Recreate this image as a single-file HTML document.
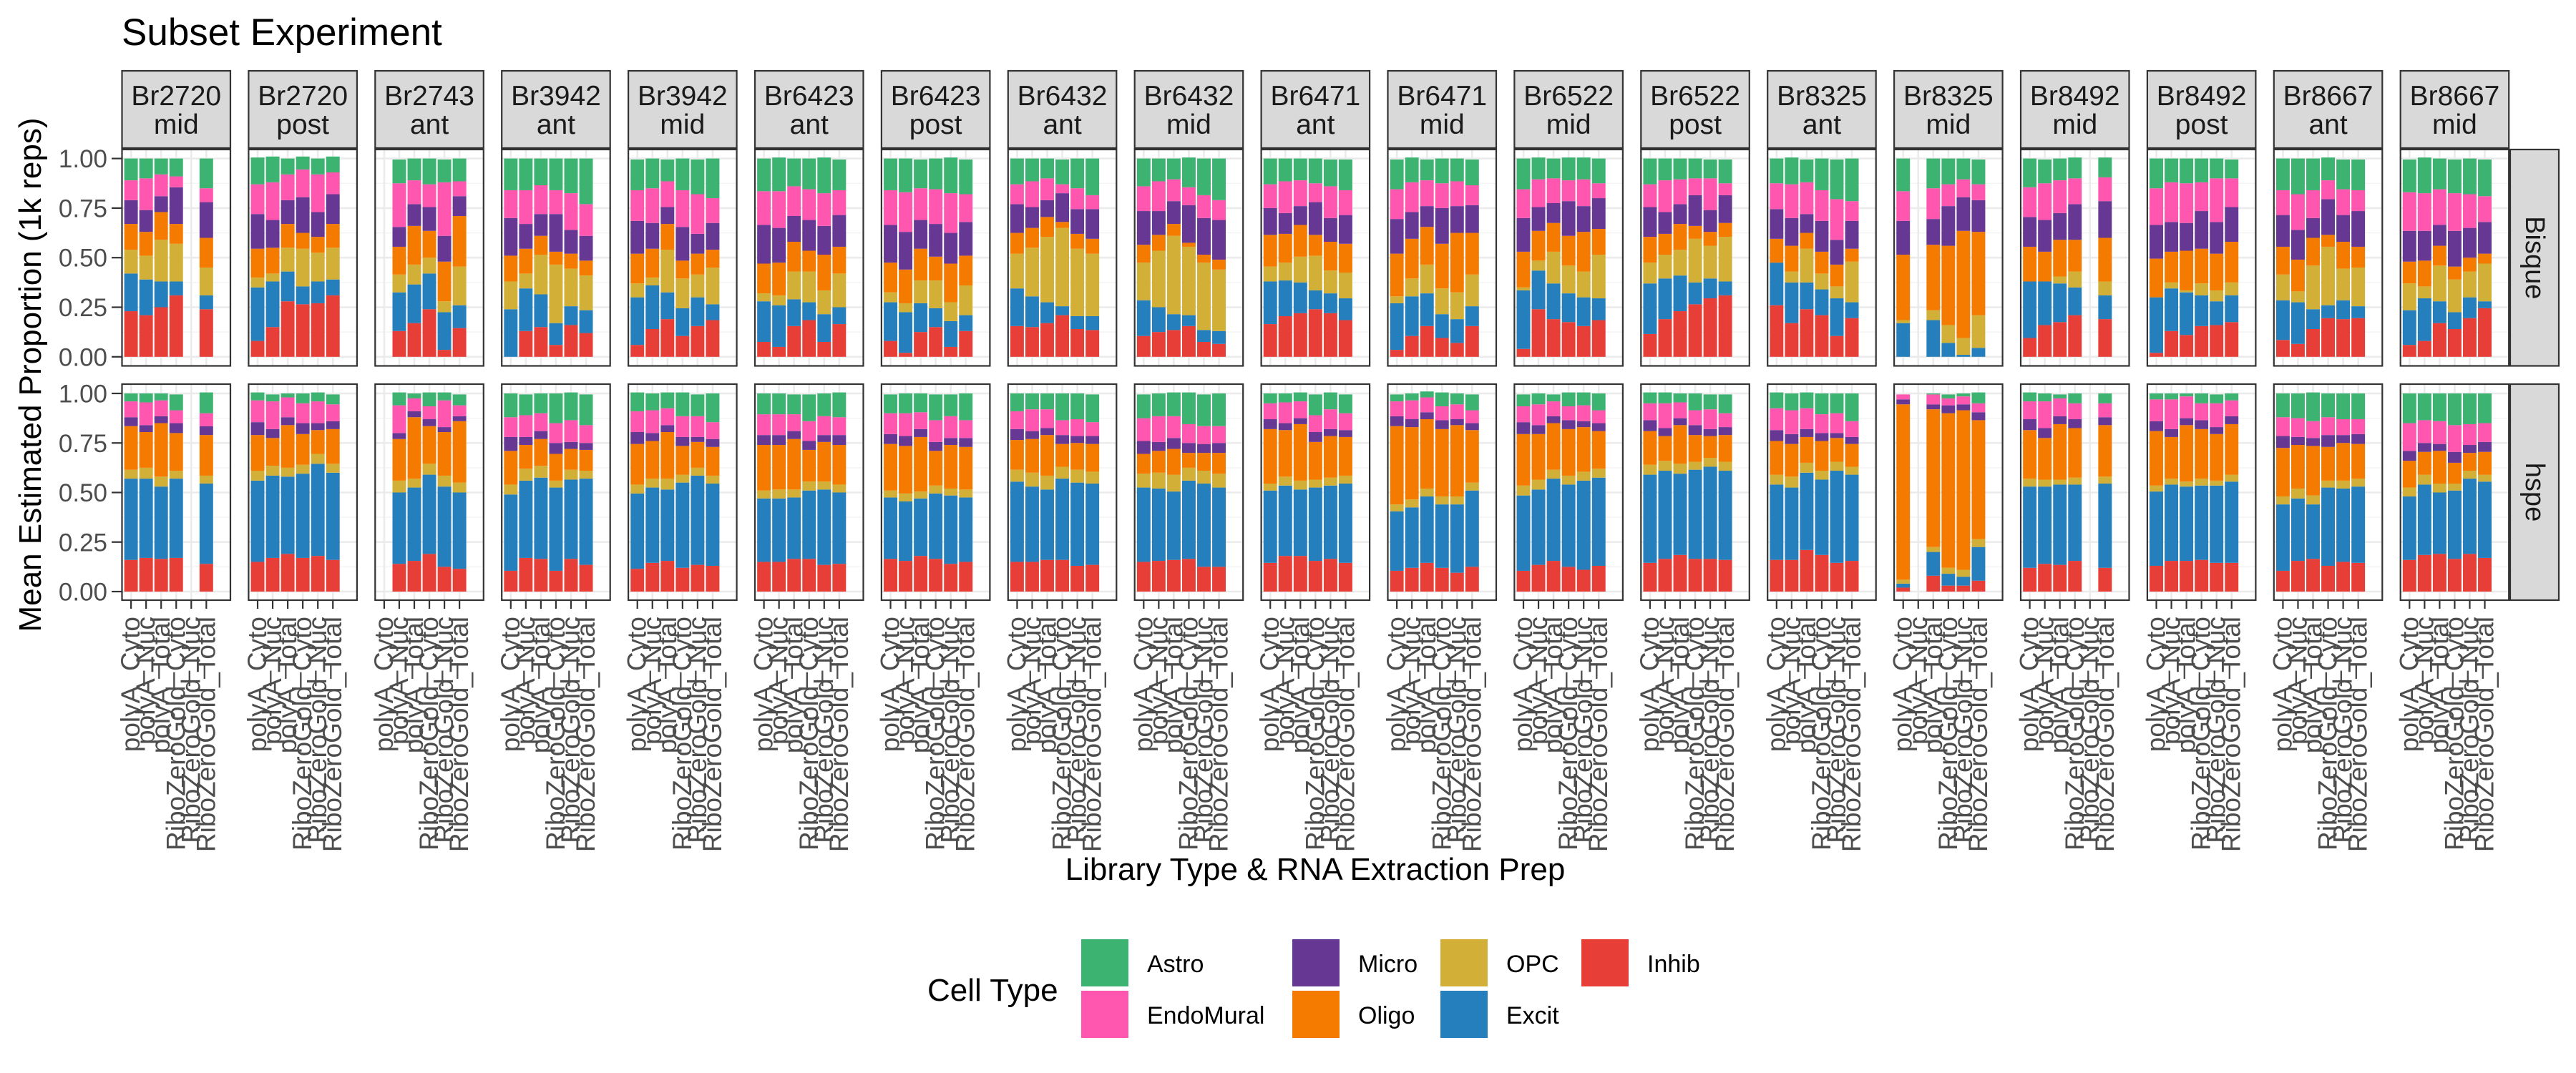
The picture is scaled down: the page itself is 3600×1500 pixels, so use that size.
<!DOCTYPE html>
<html><head><meta charset="utf-8">
<style>
html,body{margin:0;padding:0;background:#fff;}
svg{display:block;font-family:"Liberation Sans",Arial,sans-serif;}
</style></head>
<body>
<svg id="chart" width="3600" height="1500" viewBox="0 0 3600 1500" xmlns="http://www.w3.org/2000/svg">
<rect x="0" y="0" width="3600" height="1500" fill="#fff"/>
<text x="170" y="63" font-size="53" fill="#000">Subset Experiment</text>
<text transform="translate(57,524) rotate(-90)" text-anchor="middle" font-size="44" fill="#000">Mean Estimated Proportion (1k reps)</text>
<text x="1838" y="1230" text-anchor="middle" font-size="44" fill="#000">Library Type &amp; RNA Extraction Prep</text>
<g id="panels"></g>
<g id="legend"></g>
</svg>
<script>
// ---------- data ----------
const donors = ["Br2720","Br2720","Br2743","Br3942","Br3942","Br6423","Br6423","Br6432","Br6432","Br6471","Br6471","Br6522","Br6522","Br8325","Br8325","Br8492","Br8492","Br8667","Br8667"];
const positions = ["mid","post","ant","ant","mid","ant","post","ant","mid","ant","mid","mid","post","ant","mid","mid","post","ant","mid"];
const libTypes = ["polyA_Cyto","polyA_Nuc","polyA_Total","RiboZeroGold_Cyto","RiboZeroGold_Nuc","RiboZeroGold_Total"];
const methods = ["Bisque","hspe"];
const cellTypes = ["Inhib","Excit","OPC","Oligo","Micro","EndoMural","Astro"];
const cellColors = ["#E83E38","#247FBC","#D2B037","#F57A00","#663894","#FF56AF","#3CB371"];
const yTicks = [0,0.25,0.5,0.75,1];
const yTickLabels = ["0.00","0.25","0.50","0.75","1.00"];
// each bar: [Inhib, Excit, OPC, Oligo, Micro, EndoMural, Astro]
const p01B=[[.23,.19,.12,.13,.12,.10,.11],[.21,.18,.12,.12,.11,.16,.10],[.25,.13,.21,.14,.08,.11,.08],[.31,.07,.19,.10,.185,.055,.09],null,[.24,.07,.14,.15,.18,.07,.15]];
const p01H=[[.16,.41,.045,.22,.045,.08,.04],[.17,.40,.055,.18,.035,.115,.045],[.165,.365,.05,.27,.035,.08,.035],[.17,.40,.04,.19,.05,.065,.08],null,[.14,.405,.04,.205,.045,.065,.105]];
const p02B=[[.08,.27,.05,.145,.175,.15,.135],[.15,.23,.04,.13,.14,.19,.13],[.28,.15,.12,.12,.12,.13,.08],[.265,.09,.19,.08,.18,.14,.065],[.27,.11,.145,.08,.125,.19,.08],[.31,.08,.16,.12,.15,.11,.08]];
const p02H=[[.15,.41,.05,.18,.065,.11,.04],[.17,.415,.05,.14,.045,.14,.035],[.19,.39,.045,.215,.04,.10,.02],[.17,.425,.045,.155,.055,.10,.05],[.18,.465,.05,.12,.035,.11,.045],[.16,.44,.045,.175,.04,.085,.05]];
const p03B=[null,[.13,.195,.09,.14,.10,.22,.12],[.17,.195,.10,.195,.11,.12,.11],[.24,.18,.08,.135,.12,.115,.13],[.035,.19,.055,.20,.13,.27,.115],[.145,.115,.195,.255,.10,.075,.115]];
const p03H=[null,[.14,.36,.06,.21,.03,.14,.065],[.155,.37,.045,.31,.03,.065,.025],[.19,.40,.055,.19,.035,.065,.07],[.125,.405,.055,.22,.025,.135,.04],[.115,.385,.05,.31,.025,.055,.055]];
const p04B=[[0,.24,.14,.13,.19,.14,.16],[.13,.215,.075,.125,.125,.17,.16],[.15,.165,.20,.095,.11,.145,.135],[.06,.11,.295,.065,.19,.12,.16],[.16,.095,.19,.075,.12,.185,.175],[.12,.115,.175,.075,.125,.16,.23]];
const p04H=[[.105,.385,.05,.17,.07,.10,.12],[.17,.39,.06,.12,.04,.11,.105],[.165,.41,.06,.135,.04,.09,.10],[.105,.42,.035,.135,.055,.10,.15],[.165,.40,.05,.105,.035,.11,.14],[.135,.435,.04,.105,.035,.09,.155]];
const p05B=[[.06,.24,.07,.15,.165,.155,.155],[.14,.22,.04,.145,.13,.175,.15],[.19,.135,.215,.13,.085,.13,.11],[.105,.14,.15,.09,.17,.185,.16],[.155,.145,.115,.105,.10,.20,.175],[.185,.08,.185,.09,.135,.125,.20]];
const p05H=[[.115,.38,.045,.205,.06,.105,.095],[.145,.38,.045,.19,.04,.115,.085],[.155,.36,.055,.235,.035,.085,.08],[.12,.43,.04,.145,.045,.105,.12],[.135,.45,.04,.13,.025,.105,.11],[.13,.415,.04,.145,.04,.085,.145]];
const p06B=[[.075,.205,.04,.15,.195,.17,.165],[.05,.21,.05,.165,.175,.185,.17],[.155,.135,.14,.15,.13,.15,.14],[.185,.09,.155,.105,.155,.155,.155],[.075,.14,.12,.18,.145,.165,.18],[.165,.085,.17,.135,.16,.125,.155]];
const p06H=[[.15,.32,.04,.23,.05,.105,.105],[.15,.32,.045,.225,.05,.105,.105],[.165,.31,.04,.255,.04,.085,.10],[.165,.345,.045,.16,.045,.10,.135],[.135,.38,.04,.20,.035,.095,.115],[.14,.36,.04,.20,.05,.09,.125]];
const p07B=[[.08,.195,.05,.15,.19,.175,.16],[.02,.205,.045,.17,.19,.20,.17],[.125,.145,.115,.16,.145,.16,.145],[.15,.095,.14,.12,.165,.175,.155],[.05,.13,.095,.195,.155,.20,.18],[.13,.08,.15,.15,.17,.14,.175]];
const p07H=[[.165,.31,.035,.235,.05,.105,.095],[.155,.30,.04,.24,.05,.115,.10],[.18,.29,.035,.275,.04,.085,.095],[.165,.33,.04,.175,.045,.11,.13],[.14,.345,.035,.22,.035,.11,.11],[.15,.325,.04,.215,.045,.09,.135]];
const p08B=[[.155,.19,.175,.105,.145,.10,.13],[.15,.155,.245,.10,.105,.13,.115],[.17,.105,.33,.10,.085,.11,.10],[.21,.045,.395,.03,.145,.045,.125],[.14,.065,.34,.075,.125,.105,.15],[.135,.07,.315,.075,.15,.07,.185]];
const p08H=[[.15,.405,.06,.15,.055,.09,.09],[.15,.38,.07,.17,.04,.11,.08],[.16,.355,.07,.205,.035,.095,.08],[.16,.41,.06,.115,.045,.075,.135],[.13,.42,.065,.135,.035,.085,.13],[.135,.41,.06,.14,.04,.07,.14]];
const p09B=[[.105,.18,.19,.09,.17,.125,.14],[.125,.125,.285,.08,.12,.15,.115],[.135,.08,.395,.06,.115,.11,.105],[.155,.055,.345,.02,.19,.09,.15],[.075,.06,.34,.04,.185,.115,.185],[.065,.065,.31,.05,.20,.10,.21]];
const p09H=[[.15,.375,.07,.10,.065,.115,.12],[.155,.365,.08,.11,.045,.13,.115],[.16,.345,.085,.13,.055,.11,.12],[.165,.395,.065,.075,.05,.095,.16],[.125,.42,.065,.09,.045,.09,.16],[.125,.40,.07,.105,.05,.085,.165]];
const p10B=[[.165,.215,.075,.16,.135,.12,.13],[.205,.18,.09,.145,.105,.16,.115],[.22,.155,.13,.16,.095,.13,.11],[.24,.095,.175,.105,.165,.095,.125],[.22,.10,.115,.145,.12,.16,.135],[.185,.11,.13,.145,.145,.125,.155]];
const p10H=[[.145,.365,.035,.275,.05,.08,.05],[.18,.355,.045,.235,.035,.105,.045],[.18,.335,.045,.285,.03,.085,.045],[.155,.37,.04,.19,.05,.085,.105],[.165,.37,.04,.21,.035,.10,.085],[.145,.40,.04,.195,.035,.085,.095]];
const p11B=[[.035,.235,.035,.215,.175,.15,.15],[.105,.20,.09,.20,.135,.15,.125],[.155,.165,.145,.19,.105,.13,.105],[.095,.12,.13,.225,.18,.125,.125],[.07,.12,.135,.30,.135,.125,.115],[.155,.10,.16,.21,.14,.10,.13]];
const p11H=[[.105,.30,.035,.395,.05,.075,.035],[.12,.305,.04,.365,.04,.095,.035],[.145,.335,.04,.35,.035,.075,.03],[.12,.32,.04,.34,.045,.07,.07],[.095,.345,.04,.36,.03,.075,.055],[.125,.385,.04,.265,.035,.065,.08]];
const p12B=[[.04,.295,.015,.18,.17,.145,.155],[.24,.195,.05,.15,.12,.14,.11],[.19,.18,.16,.145,.10,.125,.10],[.175,.145,.14,.15,.175,.105,.115],[.155,.145,.13,.20,.13,.135,.11],[.185,.11,.22,.13,.155,.075,.125]];
const p12H=[[.105,.38,.05,.26,.06,.08,.06],[.135,.38,.05,.23,.045,.105,.055],[.155,.415,.045,.235,.035,.075,.035],[.125,.415,.045,.235,.045,.07,.07],[.11,.45,.045,.225,.03,.08,.065],[.13,.445,.045,.19,.04,.065,.085]];
const p13B=[[.115,.255,.105,.13,.15,.115,.13],[.19,.205,.12,.105,.11,.16,.11],[.23,.18,.13,.13,.10,.125,.105],[.265,.11,.22,.065,.155,.085,.10],[.295,.10,.165,.07,.11,.16,.095],[.31,.07,.225,.07,.14,.06,.12]];
const p13H=[[.145,.445,.05,.17,.055,.085,.055],[.165,.445,.05,.125,.04,.125,.055],[.185,.41,.05,.195,.035,.08,.045],[.165,.45,.04,.135,.05,.075,.085],[.165,.465,.045,.11,.035,.10,.075],[.16,.45,.045,.135,.04,.07,.095]];
const p14B=[[.26,.215,0,.12,.15,.13,.125],[.17,.205,.055,.13,.14,.17,.135],[.24,.135,.17,.08,.095,.16,.115],[.21,.13,.08,.11,.155,.155,.16],[.105,.19,.06,.11,.125,.205,.20],[.195,.08,.205,.065,.14,.10,.215]];
const p14H=[[.16,.38,.05,.17,.055,.11,.08],[.16,.365,.055,.165,.05,.12,.085],[.21,.39,.05,.13,.04,.105,.08],[.185,.38,.045,.15,.04,.095,.105],[.145,.465,.045,.12,.025,.10,.10],[.155,.435,.04,.115,.035,.08,.14]];
const p15B=[[0,.17,.015,.33,.17,.15,.165],null,[0,.185,.05,.33,.13,.155,.15],[0,.07,.09,.40,.20,.11,.13],[0,.01,.085,.54,.17,.09,.105],[0,.045,.165,.42,.16,.08,.125]];
const p15H=[[.02,.02,.02,.885,.025,.025,0],null,[.08,.12,.025,.695,.025,.05,.005],[.03,.06,.03,.78,.04,.035,.02],[.03,.045,.035,.805,.03,.04,.015],[.055,.17,.04,.60,.04,.045,.055]];
const p16B=[[.095,.285,0,.175,.15,.15,.145],[.16,.22,0,.15,.16,.185,.12],[.175,.195,.035,.185,.135,.165,.11],[.21,.14,.08,.16,.18,.13,.105],null,[.19,.12,.07,.22,.185,.12,.10]];
const p16H=[[.12,.41,.04,.245,.055,.09,.045],[.14,.39,.035,.21,.05,.135,.04],[.135,.405,.025,.28,.04,.09,.02],[.155,.385,.035,.25,.045,.08,.05],null,[.12,.425,.035,.26,.04,.07,.05]];
const p17B=[[.02,.28,0,.195,.17,.185,.15],[.13,.215,.03,.155,.15,.20,.12],[.11,.215,.01,.20,.14,.20,.125],[.155,.155,.06,.175,.19,.145,.12],[.16,.12,.055,.185,.16,.22,.10],[.175,.135,.065,.205,.175,.145,.095]];
const p17H=[[.13,.375,.03,.275,.05,.11,.03],[.155,.385,.03,.21,.04,.15,.03],[.155,.375,.025,.285,.035,.11,.015],[.16,.375,.035,.25,.045,.085,.05],[.145,.39,.025,.235,.035,.12,.045],[.145,.41,.035,.255,.04,.08,.035]];
const p18B=[[.085,.20,.13,.14,.16,.125,.16],[.065,.21,.055,.16,.15,.18,.18],[.14,.10,.22,.14,.10,.14,.16],[.195,.065,.295,.06,.18,.095,.115],[.19,.095,.16,.135,.135,.13,.15],[.195,.06,.195,.105,.18,.105,.155]];
const p18H=[[.105,.335,.04,.245,.06,.095,.12],[.155,.315,.05,.22,.04,.095,.125],[.165,.275,.045,.25,.04,.085,.145],[.13,.395,.035,.17,.06,.09,.12],[.15,.37,.04,.19,.04,.08,.13],[.145,.385,.04,.175,.05,.075,.13]];
const p19B=[[.06,.175,.135,.11,.155,.195,.165],[.08,.215,.06,.13,.15,.19,.18],[.17,.11,.18,.10,.105,.18,.155],[.14,.085,.165,.065,.18,.19,.17],[.195,.105,.13,.07,.15,.17,.18],[.245,.035,.19,.05,.16,.13,.185]];
const p19H=[[.16,.32,.045,.135,.05,.14,.15],[.185,.355,.05,.115,.045,.115,.135],[.19,.31,.045,.165,.035,.115,.14],[.165,.345,.035,.105,.055,.135,.16],[.19,.38,.04,.09,.04,.105,.155],[.17,.385,.035,.115,.05,.095,.15]];
const bisqueData=[p01B,p02B,p03B,p04B,p05B,p06B,p07B,p08B,p09B,p10B,p11B,p12B,p13B,p14B,p15B,p16B,p17B,p18B,p19B];
const hspeData=[p01H,p02H,p03H,p04H,p05H,p06H,p07H,p08H,p09H,p10H,p11H,p12H,p13H,p14H,p15H,p16H,p17H,p18H,p19H];
const legendOrder = ["Astro","EndoMural","Micro","Oligo","OPC","Excit","Inhib"];

// ---------- layout ----------
const NS="http://www.w3.org/2000/svg";
const panelLeft0=170.5, panelPitch=176.9, panelW=151.5;
const rows=[{top:209,bottom:511.5,y0:498.8,y1:221.6,data:bisqueData},{top:537,bottom:839,y0:827,y1:550,data:hspeData}];
const unit=panelW/7.2;
function xCenter(p,i){return panelLeft0+p*panelPitch+(0.6+i)*unit;}
function yScale(r,v){return r.y0+(r.y1-r.y0)*v;}
function mk(tag,attrs,parent){const e=document.createElementNS(NS,tag);for(const k in attrs)e.setAttribute(k,attrs[k]);parent.appendChild(e);return e;}
const gP=document.getElementById('panels');

for(let p=0;p<donors.length;p++){
  const left=panelLeft0+p*panelPitch;
  const strip=mk('rect',{x:left,y:99,width:panelW,height:108,fill:'#d9d9d9',stroke:'#333',"stroke-width":2.2},gP);
  
  
  const t1=mk('text',{x:left+panelW/2,y:147,"text-anchor":"middle","font-size":39,fill:'#1a1a1a'},gP);
  t1.textContent=donors[p];
  
  
  const t2=mk('text',{x:left+panelW/2,y:187,"text-anchor":"middle","font-size":39,fill:'#1a1a1a'},gP);
  t2.textContent=positions[p];
  
  

  rows.forEach((r,ri)=>{
    const g=mk('g',{},gP);
    
    
    mk('rect',{x:left,y:r.top,width:panelW,height:r.bottom-r.top,fill:'#fff'},g);
    for(let k=0;k<4;k++){const v=yTicks[k]+0.125;const y=yScale(r,v);mk('line',{x1:left,x2:left+panelW,y1:y,y2:y,stroke:'#f2f2f2',"stroke-width":1.3},g);}
    yTicks.forEach(v=>{const y=yScale(r,v);mk('line',{x1:left,x2:left+panelW,y1:y,y2:y,stroke:'#ebebeb',"stroke-width":2.6},g);});
    for(let i=0;i<libTypes.length;i++){const x=xCenter(p,i);mk('line',{x1:x,x2:x,y1:r.top,y2:r.bottom,stroke:'#ebebeb',"stroke-width":2.6},g);}
    const pd=r.data[p];
    for(let i=0;i<libTypes.length;i++){
      const bar=pd[i]; if(!bar) continue;
      const cx=xCenter(p,i), bw=unit*0.9;
      let cum=0;
      for(let c=0;c<cellTypes.length;c++){
        const v=bar[c];
        const ya=yScale(r,cum), yb=yScale(r,cum+v);
        cum+=v;
        if(v<=0) continue;
        const seg=mk('rect',{x:cx-bw/2,y:yb,width:bw,height:ya-yb,fill:cellColors[c]},g);
        
        
      }
    }
    mk('rect',{x:left,y:r.top,width:panelW,height:r.bottom-r.top,fill:'none',stroke:'#333',"stroke-width":2.2},g);
    if(p===0){
      yTicks.forEach((v,k)=>{const y=yScale(r,v);
        mk('line',{x1:156,x2:170,y1:y,y2:y,stroke:'#333',"stroke-width":2.2},gP);
        const tl=mk('text',{x:150,y:y+12.5,"text-anchor":"end","font-size":35,fill:'#4d4d4d'},gP);
        tl.textContent=yTickLabels[k];
        
        
      });
    }
    if(p===donors.length-1){
      const rs=mk('rect',{x:3508,y:r.top,width:68,height:r.bottom-r.top,fill:'#d9d9d9',stroke:'#333',"stroke-width":2.2},gP);
      
      
      const cy=(r.top+r.bottom)/2;
      const rt=mk('text',{transform:'translate(3530,'+cy+') rotate(90)',"text-anchor":"middle","font-size":38,fill:'#1a1a1a'},gP);
      rt.textContent=methods[ri];
      
      
    }
  });
  for(let i=0;i<libTypes.length;i++){
    const x=xCenter(p,i);
    mk('line',{x1:x,x2:x,y1:839,y2:851,stroke:'#333',"stroke-width":2.2},gP);
    const xl=mk('text',{transform:'translate('+(x+12)+',862) rotate(-90)',"text-anchor":"end","font-size":37,fill:'#4d4d4d'},gP);
    xl.textContent=libTypes[i];
    
    
  }
}

// ---------- legend ----------
const gL=document.getElementById('legend');
const lt=mk('text',{x:1296,y:1399,"font-size":44,fill:'#000'},gL);
lt.textContent='Cell Type';


const colX=[1511,1806,2013,2210];
legendOrder.forEach((name,k)=>{
  const col=Math.floor(k/2), row=k%2;
  const x=colX[col], y=1313+row*72;
  const g=mk('g',{},gL);
  
  
  mk('rect',{x:x,y:y,width:66,height:66,fill:cellColors[cellTypes.indexOf(name)]},g);
  const tx=mk('text',{x:x+92,y:y+46,"font-size":34,fill:'#000'},g);
  tx.textContent=name;
});
</script>
</body></html>
